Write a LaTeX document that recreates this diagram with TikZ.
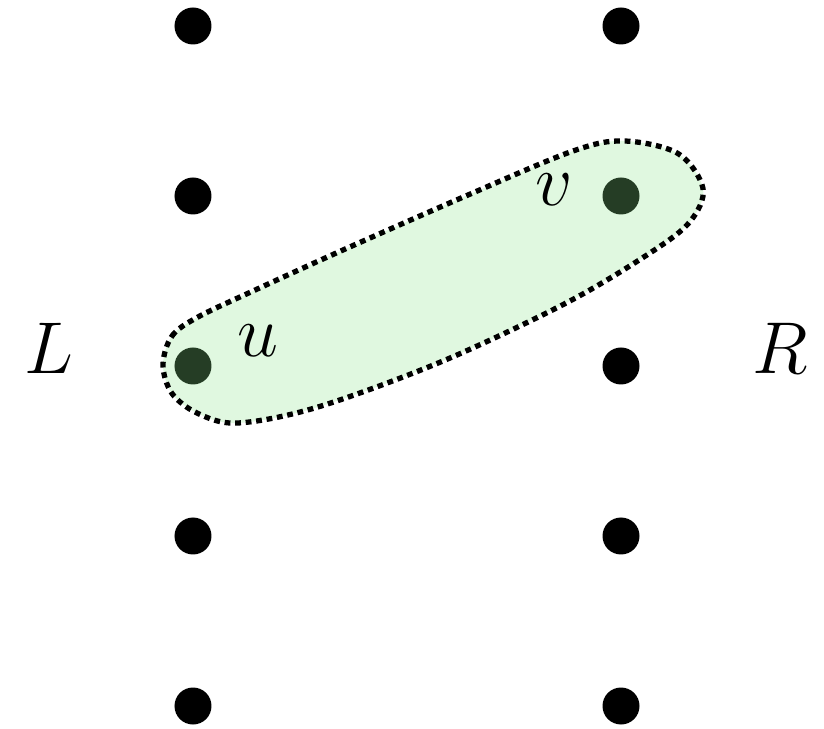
\documentclass[tikz,border=0pt]{standalone}
\usepackage{tikz}
\usetikzlibrary{positioning}
\definecolor{SetGreen}{RGB}{139,229,139}

\begin{document}
\begin{tikzpicture}[
          vtx/.style={circle, fill=black, inner sep=0pt, minimum size=0.74cm},
          side/.style={font=\Huge, scale=1.68},
          blob/.style={draw=black, line width=3pt, dash pattern=on 3.3pt off 2.7pt,
                       fill=SetGreen, fill opacity=0.27, draw opacity=1}
        ]
        \useasboundingbox (-3.86,-7.26) rectangle (12.62,7.32);

        % Vertices
        \foreach \i/\y in {1/6.8, 2/3.4, 3/0, 4/-3.4, 5/-6.8} {
          \node[vtx] (l\i) at (0, \y) {};
          \node[vtx] (r\i) at (8.56, \y) {};
        }

        % Edge set around u and v
        \draw[blob] plot[smooth cycle, tension=0.55] coordinates {
          (-0.6,0.02) (-0.42,0.6) (0.1,0.98) (1.2,1.5) (3.0,2.32) (5.5,3.42)
          (7.6,4.3) (8.62,4.5) (9.7,4.25) (10.2,3.55) (9.95,2.9) (9.2,2.3)
          (7.5,1.28) (5.0,0.1) (2.5,-0.82) (0.9,-1.14) (0.1,-0.95) (-0.42,-0.55)
        };

        % Labels
        \node[side] (lu) at (1.3, 0.5) {$u$};
        \node[side] (lv) at (7.22, 3.52) {$v$};
        \node[side] (lL) at (-2.88, 0.35) {$L$};
        \node[side] (lR) at (11.74, 0.36) {$R$};
      \end{tikzpicture}
\end{document}
